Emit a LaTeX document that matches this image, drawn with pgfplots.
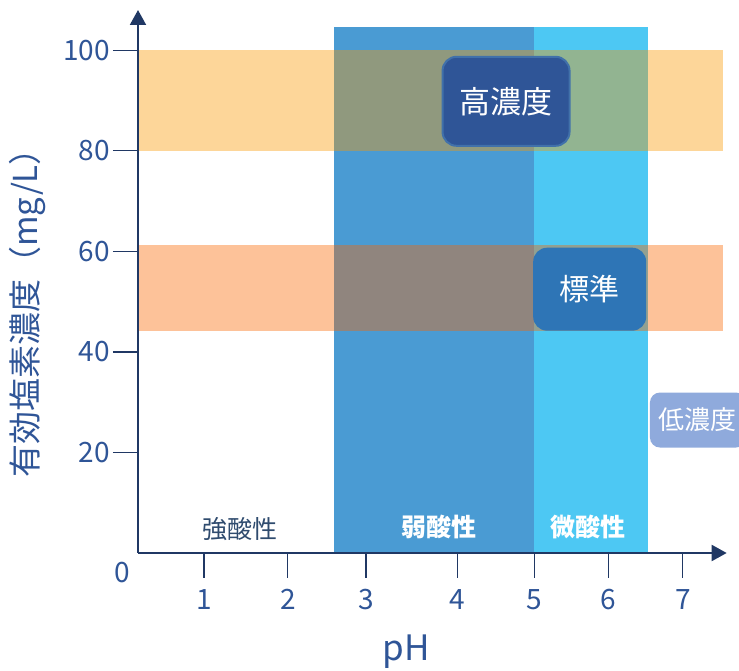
\documentclass[border=0pt]{standalone}
\usepackage{pgfplots}
\pgfplotsset{compat=1.18}
\usetikzlibrary{arrows.meta}
\usepackage{fontspec}
\setmainfont{Noto Sans CJK JP}

\definecolor{axisnavy}{RGB}{32,56,100}
\definecolor{labelblue}{RGB}{47,85,151}
\definecolor{weakblue}{RGB}{74,155,211}
\definecolor{slightblue}{RGB}{77,200,243}
\definecolor{highband}{RGB}{250,152,0}
\definecolor{stdband}{RGB}{250,102,0}
\definecolor{highbox}{RGB}{47,85,151}
\definecolor{highedge}{RGB}{65,113,170}
\definecolor{stdbox}{RGB}{46,117,182}
\definecolor{lowbox}{RGB}{143,170,220}
\definecolor{strongtext}{RGB}{47,75,110}

\begin{document}
\begin{tikzpicture}
\begin{axis}[
  scale only axis,
  width=588.7pt, height=543pt,
  xmin=0.173, xmax=7.55, ymin=0, ymax=108,
  axis lines=left,
  axis on top,
  clip=false,
  axis line style={draw=axisnavy, line width=2pt, -{Triangle[length=15pt,width=16pt]}},
  xtick={1,2.05,3.03,4.18,5.14,6.07,7},
  xticklabels={1,2,3,4,5,6,7},
  ytick={20,40,60,80,100},
  tick align=outside,
  major tick length=25pt,
  tick style={draw=axisnavy, line width=1.3pt},
  tick label style={font=\fontsize{28}{30}\selectfont, text=labelblue},
  xticklabel style={yshift=-8pt},
  yticklabel style={inner sep=3pt},
  /pgf/number format/assume math mode=true,
]
% pH ranges (vertical bands)
\addplot[draw=none, fill=weakblue] coordinates {(2.63,0) (5.14,0) (5.14,104.6) (2.63,104.6)} -- cycle;
\addplot[draw=none, fill=slightblue] coordinates {(5.14,0) (6.56,0) (6.56,104.6) (5.14,104.6)} -- cycle;
% concentration ranges (horizontal bands)
\addplot[draw=none, fill=highband, fill opacity=0.4] coordinates {(0.173,80) (7.50,80) (7.50,100) (0.173,100)} -- cycle;
\addplot[draw=none, fill=stdband, fill opacity=0.4] coordinates {(0.173,44.2) (7.50,44.2) (7.50,61.2) (0.173,61.2)} -- cycle;

\node[fill=highbox, draw=highedge, line width=2pt, rounded corners=14pt, minimum width=127pt, minimum height=89pt,
  inner sep=0pt, text=white, font=\fontsize{31}{34}\selectfont] at (axis cs:4.785,89.84) {高濃度};
\node[fill=stdbox, rounded corners=14pt, minimum width=113pt, minimum height=83pt,
  inner sep=0pt, text=white, font=\fontsize{30}{33}\selectfont] at (axis cs:5.833,52.47) {標準};
\node[fill=lowbox, rounded corners=10pt, minimum width=96pt, minimum height=55pt,
  inner sep=0pt, text=white, font=\fontsize{26}{28}\selectfont] at (axis cs:7.19,26.45) {低濃度};

\node[text=strongtext, font=\fontsize{25}{28}\selectfont] at (axis cs:1.451,4.77) {強酸性};
\node[text=white, font=\bfseries\fontsize{25}{28}\selectfont] at (axis cs:3.944,5.17) {弱酸性};
\node[text=white, font=\bfseries\fontsize{25}{28}\selectfont] at (axis cs:5.812,5.17) {微酸性};

\coordinate (O) at (axis cs:0.173,0);
\end{axis}
\node[text=labelblue, font=\fontsize{28}{30}\selectfont] at ([xshift=-16pt,yshift=-20pt]O) {0};
\node[text=labelblue, font=\fontsize{35}{38}\selectfont] at ([xshift=268pt,yshift=-99pt]O) {pH};
\node[text=labelblue, font=\fontsize{33}{36}\selectfont, rotate=90] at ([xshift=-110pt,yshift=248pt]O) {有効塩素濃度（mg/L）};
\pgfresetboundingbox
\path[use as bounding box] ([xshift=-138pt,yshift=-118pt]O) rectangle ([xshift=601pt,yshift=553pt]O);
\end{tikzpicture}
\end{document}
